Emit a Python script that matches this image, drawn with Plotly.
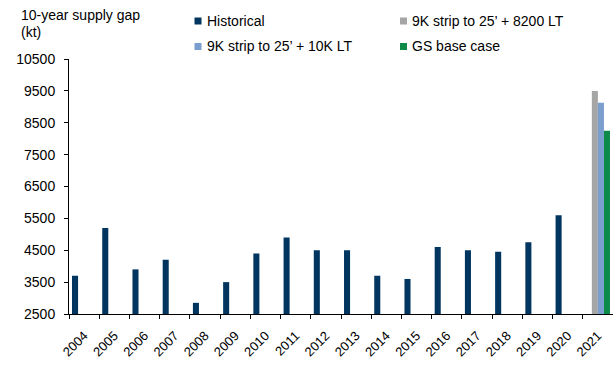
import plotly.graph_objects as go

# Ten-year supply gap (kt) by year
years = [str(y) for y in range(2004, 2022)]
historical = [3700, 5200, 3900, 4200, 2850, 3500, 4400, 4900, 4500, 4500,
              3700, 3600, 4600, 4500, 4450, 4750, 5600, None]
strip_8200 = [None] * 17 + [9500]
strip_10k = [None] * 17 + [9130]
gs_base = [None] * 17 + [8250]

series_names = ["Historical", "9K strip to 25\u2019 + 8200 LT",
                "9K strip to 25\u2019 + 10K LT", "GS base case"]
series_colors = ["#00355F", "#A5A5A5", "#7A9FCF", "#0B8A4A"]
series_values = [historical, strip_8200, strip_10k, gs_base]

y_ticks = list(range(2500, 10501, 1000))

W, H = 613, 374
ML, MR, MT, MB = 69, 0, 59, 60
PW, PH = W - ML - MR, H - MT - MB
FONT = "Liberation Sans, Arial, sans-serif"


def px_x(px):
    return (px - ML) / PW


def px_y(py):
    return (H - MB - py) / PH


fig = go.Figure()
for name, color, vals in zip(series_names, series_colors, series_values):
    fig.add_trace(go.Bar(x=years, y=vals, name=name, marker_color=color,
                         marker_line_width=0, showlegend=False))

# Legend drawn as small squares with labels, two per row
legend_pos = [(198, 21), (403.5, 21), (198, 46.5), (403.5, 46.5)]
shapes = []
annotations = []
for (cx, cy), name, color in zip(legend_pos, series_names, series_colors):
    shapes.append(dict(type="rect", xref="paper", yref="paper",
                       x0=px_x(cx - 3.5), x1=px_x(cx + 3.5),
                       y0=px_y(cy + 3.5), y1=px_y(cy - 3.5),
                       fillcolor=color, line_width=0))
    annotations.append(dict(text=name, xref="paper", yref="paper",
                            x=px_x(cx + 6.5), y=px_y(cy), xanchor="left",
                            yanchor="middle", showarrow=False,
                            font=dict(family=FONT, size=14, color="#000")))

# Axis title in the top-left corner
for txt, py in [("10-year supply gap", 15.5), ("(kt)", 32.5)]:
    annotations.append(dict(text=txt, xref="paper", yref="paper",
                            x=px_x(19), y=px_y(py), xanchor="left",
                            yanchor="middle", showarrow=False,
                            font=dict(family=FONT, size=14, color="#000")))

fig.update_layout(
    width=W, height=H,
    margin=dict(l=ML, r=MR, t=MT, b=MB, pad=0),
    paper_bgcolor="white", plot_bgcolor="white",
    barmode="group", bargap=0.2, bargroupgap=0,
    font=dict(family=FONT, size=14, color="#000"),
    shapes=shapes, annotations=annotations,
    showlegend=False,
)
fig.update_xaxes(
    type="category", categoryorder="array", categoryarray=years,
    showline=True, linecolor="#000", linewidth=1,
    ticks="outside", ticklen=4, tickcolor="#000", tickson="boundaries",
    tickangle=-45, ticklabelstandoff=8, showgrid=False, zeroline=False,
    tickfont=dict(family=FONT, size=13, color="#000"),
)
fig.update_yaxes(
    range=[2500, 10500], tickvals=y_ticks, ticktext=[str(v) for v in y_ticks],
    showline=True, linecolor="#000", linewidth=1,
    ticks="outside", ticklen=4, tickcolor="#000", ticklabelstandoff=6,
    showgrid=False, zeroline=False,
    tickfont=dict(family=FONT, size=14, color="#000"),
)

fig.write_html("out.html")
